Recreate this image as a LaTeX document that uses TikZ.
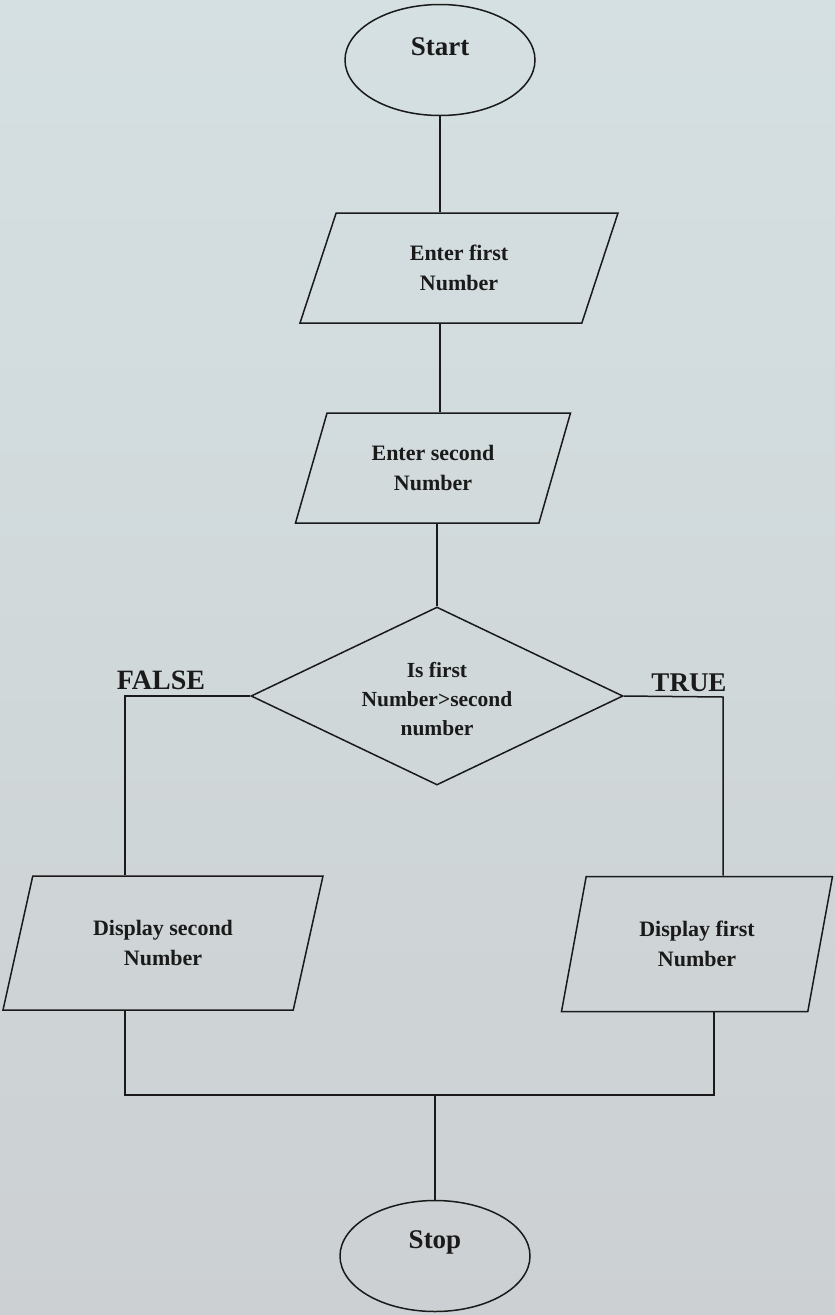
\documentclass[tikz,border=0pt]{standalone}
\usepackage{fontspec}
\setmainfont{Liberation Serif}
\usetikzlibrary{shapes.geometric}

\definecolor{paperhi}{RGB}{213,224,226}
\definecolor{paperlo}{RGB}{204,208,210}
\definecolor{ink}{RGB}{26,26,26}

\tikzset{
  flow/.style={draw=ink, line width=1.5pt},
  wire/.style={draw=ink, line width=1.5pt, line join=miter},
  terminal/.style={ellipse, flow, inner sep=0pt, minimum width=190pt, minimum height=111pt},
  termtext/.style={text=ink, font=\fontsize{27}{32}\selectfont\bfseries, inner sep=0pt},
  iobox/.style={trapezium, flow, trapezium stretches body, text=ink, align=center,
    inner sep=2pt, font=\fontsize{22}{30}\selectfont\bfseries},
  decision/.style={diamond, flow, shape aspect=2.1, inner sep=1pt, text=ink, align=center,
    font=\fontsize{21.5}{29}\selectfont\bfseries},
  branchtext/.style={text=ink, font=\fontsize{28}{32}\selectfont\bfseries, inner sep=0pt}
}

\begin{document}
\begin{tikzpicture}[x=1pt, y=-1pt]
  % paper
  \shade[top color=paperhi, bottom color=paperlo] (0,0) rectangle (835,1315);
  \useasboundingbox (0,0) rectangle (835,1315);

  % main column
  \node[terminal] (start) at (440,60) {};
  \node[termtext] (startlbl) at ([yshift=13pt]start.center) {Start};

  \node[iobox, trapezium left angle=54, trapezium right angle=126,
        minimum width=318pt, minimum height=110pt] (in1) at (459,268) {Enter first\\Number};

  \node[iobox, trapezium left angle=57.5, trapezium right angle=122.5,
        minimum width=275pt, minimum height=110pt] (in2) at (433,468) {Enter second\\Number};

  \node[decision, minimum width=372pt, minimum height=178pt] (dec) at (437,696) {};
  \node[text=ink, align=center, inner sep=0pt, font=\fontsize{21.5}{29}\selectfont\bfseries]
        (dectxt) at ([yshift=-3pt]dec.center) {Is first\\Number>second\\number};

  % branches
  \node[iobox, trapezium left angle=59, trapezium right angle=121,
        minimum width=320pt, minimum height=134pt] (out2) at (163,943) {Display second\\Number};

  \node[iobox, trapezium left angle=63.6, trapezium right angle=116.4,
        minimum width=271pt, minimum height=135pt] (out1) at (697,944) {Display first\\Number};

  \node[branchtext] (falselbl) at (161,680) {FALSE};
  \node[termtext] (truelbl) at (689,683) {TRUE};

  \node[terminal] (stop) at (435,1256) {};
  \node[termtext] (stoplbl) at ([yshift=14pt]stop.center) {Stop};

  % routing points
  \coordinate (lf) at (125,696);
  \coordinate (rt) at (723,697);
  \coordinate (jl) at (125,1095);
  \coordinate (jr) at (714,1095);

  % connectors
  \draw[wire] (start.south) -- (start.south |- in1.north);
  \draw[wire] (start.south |- in1.south) -- (start.south |- in2.north);
  \draw[wire] (dec.north |- in2.south) -- (dec.north);
  \draw[wire] (dec.west) -- (lf) -- (lf |- out2.north);
  \draw[wire] (dec.east) -- (rt) -- (rt |- out1.north);
  \draw[wire] (jl |- out2.south) -- (jl) -- (jr) -- (jr |- out1.south);
  \draw[wire] (stop.north |- jl) -- (stop.north);
\end{tikzpicture}
\end{document}
